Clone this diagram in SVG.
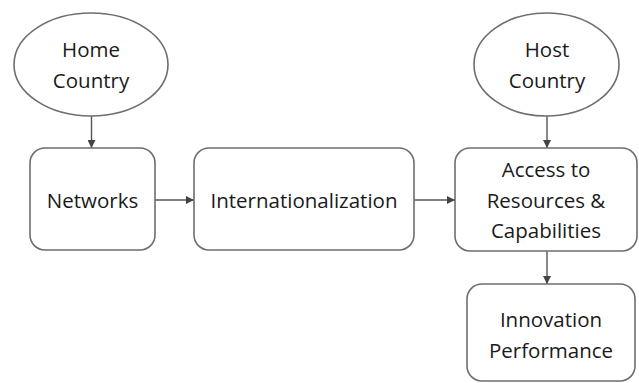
<svg xmlns="http://www.w3.org/2000/svg" width="639" height="383" viewBox="0 0 639 383">
<style>
.n{fill:#fff;stroke:#6e6e6e;stroke-width:1.6}
.t{font-family:"Open Sans","Liberation Sans",sans-serif;font-size:20.5px;fill:#1a1a1a;text-anchor:middle}
.c{stroke:#555;stroke-width:1.4;fill:none}
</style>
<defs>
<marker id="ah" viewBox="0 0 10 10" refX="10" refY="5" markerWidth="8" markerHeight="8" markerUnits="userSpaceOnUse" orient="auto">
<path d="M0,0 L10,5 L0,10 z" fill="#444"/>
</marker>
</defs>
<rect width="639" height="383" fill="#fff"/>
<g id="connectors">
<line class="c" x1="91.5" y1="116" x2="91.5" y2="148" marker-end="url(#ah)"/>
<line class="c" x1="547" y1="116" x2="547" y2="148" marker-end="url(#ah)"/>
<line class="c" x1="155" y1="200" x2="194" y2="200" marker-end="url(#ah)"/>
<line class="c" x1="414" y1="200" x2="455" y2="200" marker-end="url(#ah)"/>
<line class="c" x1="547" y1="251" x2="547" y2="284" marker-end="url(#ah)"/>
</g>
<g id="home">
<ellipse class="n" cx="91" cy="64.5" rx="77" ry="51.5"/>
<text class="t" x="91" y="56.5">Home</text>
<text class="t" x="91" y="88">Country</text>
</g>
<g id="host">
<ellipse class="n" cx="546.5" cy="64.5" rx="72.5" ry="51.5"/>
<text class="t" x="547" y="56.5">Host</text>
<text class="t" x="547" y="88">Country</text>
</g>
<g id="networks">
<rect class="n" x="30" y="148" width="125" height="102" rx="15"/>
<text class="t" x="92.5" y="208">Networks</text>
</g>
<g id="internationalization">
<rect class="n" x="194" y="148" width="220" height="102" rx="15"/>
<text class="t" x="304" y="208">Internationalization</text>
</g>
<g id="access">
<rect class="n" x="455" y="148" width="182" height="103" rx="15"/>
<text class="t" x="546" y="177">Access to</text>
<text class="t" x="546" y="207.5">Resources &amp;</text>
<text class="t" x="546" y="238">Capabilities</text>
</g>
<g id="innovation">
<rect class="n" x="467" y="284" width="168" height="97" rx="15"/>
<text class="t" x="551" y="327">Innovation</text>
<text class="t" x="551" y="358">Performance</text>
</g>
</svg>
